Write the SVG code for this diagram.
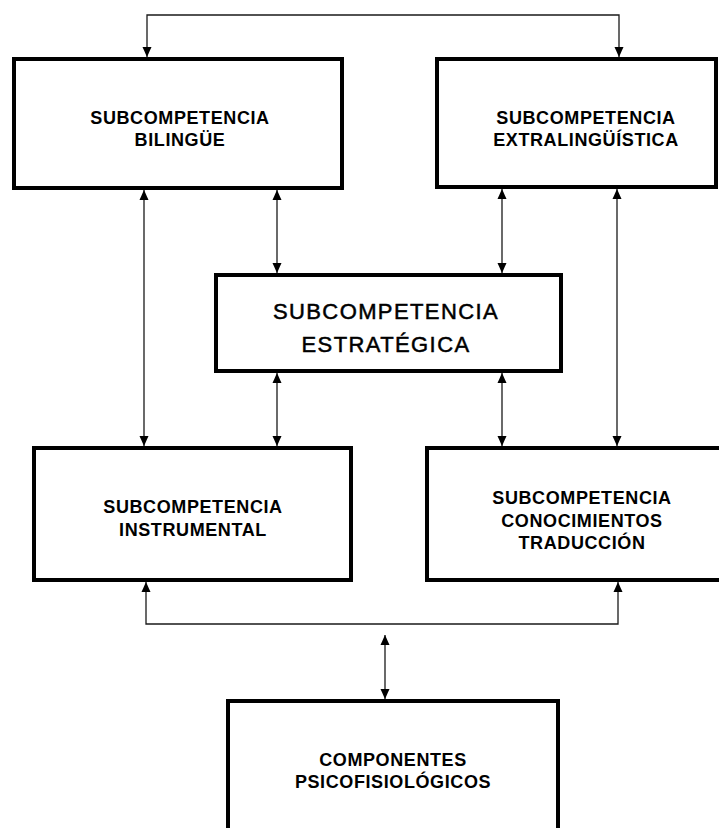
<svg xmlns="http://www.w3.org/2000/svg" width="719" height="828" viewBox="0 0 719 828">
<style>
.box{fill:#fff;stroke:#000;stroke-width:4}
.lbl{font-family:"Liberation Sans",Arial,sans-serif;font-weight:bold;font-size:18px;letter-spacing:0.6px;fill:#000;text-anchor:middle}
.big{font-family:"Liberation Sans",Arial,sans-serif;font-weight:normal;font-size:22px;letter-spacing:1.4px;fill:#000;text-anchor:middle;stroke:#000;stroke-width:0.5}
.con{fill:none;stroke:#1a1a1a;stroke-width:1.3}
</style>
<defs>
<marker id="ah" markerUnits="userSpaceOnUse" markerWidth="10" markerHeight="10" viewBox="0 0 10 10" refX="10" refY="5" orient="auto-start-reverse">
<path d="M0,0.5 L10,5 L0,9.5 Z" fill="#000"/>
</marker>
</defs>
<rect width="719" height="828" fill="#fff"/>
<g id="connectors">
<path class="con" d="M147,57 V15 H619 V57" marker-start="url(#ah)" marker-end="url(#ah)"/>
<path class="con" d="M144,190 V446" marker-start="url(#ah)" marker-end="url(#ah)"/>
<path class="con" d="M277,190 V273" marker-start="url(#ah)" marker-end="url(#ah)"/>
<path class="con" d="M502,189 V273" marker-start="url(#ah)" marker-end="url(#ah)"/>
<path class="con" d="M277,373 V446" marker-start="url(#ah)" marker-end="url(#ah)"/>
<path class="con" d="M502,373 V446" marker-start="url(#ah)" marker-end="url(#ah)"/>
<path class="con" d="M617,189 V446" marker-start="url(#ah)" marker-end="url(#ah)"/>
<path class="con" d="M146,582 V624 H618 V582" marker-start="url(#ah)" marker-end="url(#ah)"/>
<path class="con" d="M385,635 V699" marker-start="url(#ah)" marker-end="url(#ah)"/>
</g>
<g id="bilingue">
<rect class="box" x="14" y="59" width="328" height="129"/>
<text class="lbl" x="180" y="123.5">SUBCOMPETENCIA</text>
<text class="lbl" x="180" y="146">BILINGÜE</text>
</g>
<g id="extralinguistica">
<rect class="box" x="437" y="59" width="279" height="128"/>
<text class="lbl" x="586" y="123.5">SUBCOMPETENCIA</text>
<text class="lbl" x="586" y="146">EXTRALINGÜÍSTICA</text>
</g>
<g id="estrategica">
<rect class="box" x="216" y="275" width="345" height="96"/>
<text class="big" x="386" y="319">SUBCOMPETENCIA</text>
<text class="big" x="386" y="352">ESTRATÉGICA</text>
</g>
<g id="instrumental">
<rect class="box" x="34" y="448" width="317" height="132"/>
<text class="lbl" x="193" y="513">SUBCOMPETENCIA</text>
<text class="lbl" x="193" y="536">INSTRUMENTAL</text>
</g>
<g id="conocimientos">
<rect class="box" x="427" y="448" width="300" height="132"/>
<text class="lbl" x="582" y="504">SUBCOMPETENCIA</text>
<text class="lbl" x="582" y="527">CONOCIMIENTOS</text>
<text class="lbl" x="582" y="549">TRADUCCIÓN</text>
</g>
<g id="componentes">
<rect class="box" x="228" y="701" width="330" height="140"/>
<text class="lbl" x="393" y="766">COMPONENTES</text>
<text class="lbl" x="393" y="788">PSICOFISIOLÓGICOS</text>
</g>
</svg>
